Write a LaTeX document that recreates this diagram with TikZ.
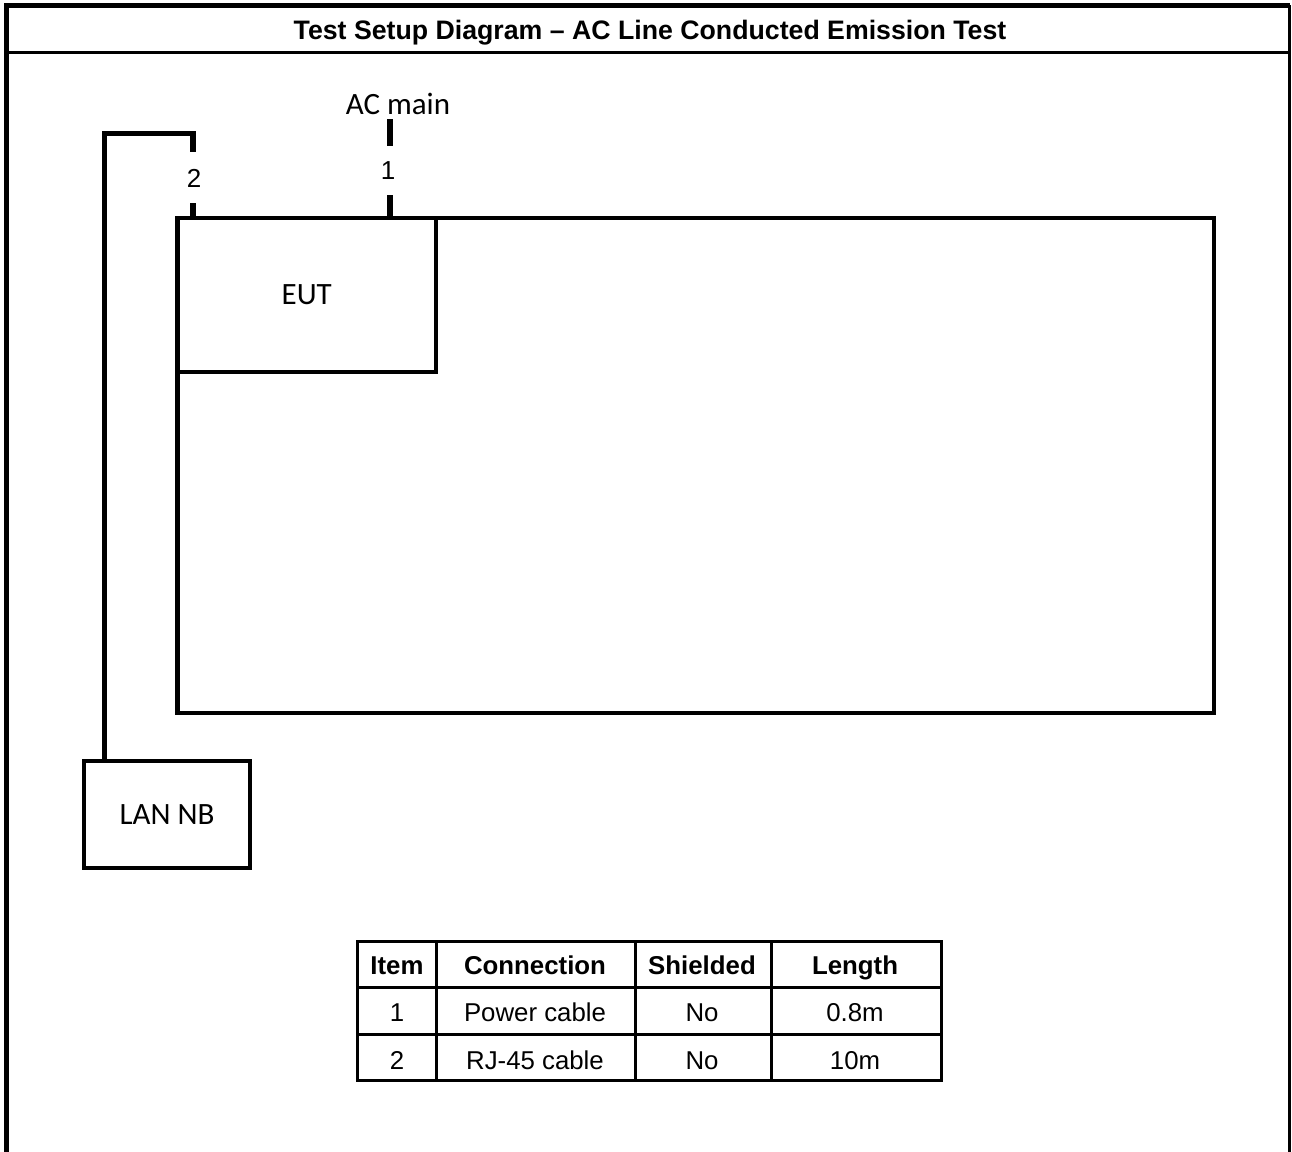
\documentclass[tikz,border=0pt]{standalone}
\usepackage{fontspec}
\setmainfont{Liberation Sans}
\newfontfamily\calfont{Carlito}
\usetikzlibrary{calc}
\begin{document}
\begin{tikzpicture}[x=1pt,y=-1pt,
  boxstyle/.style={draw, line width=4.5pt, inner sep=0pt, outer sep=0pt, line join=miter},
  califont/.style={font=\calfont\fontsize{31}{36}\selectfont},
  cable/.style={line width=5.5pt, line join=miter},
  gridline/.style={line width=3pt},
  numlabel/.style={font=\fontsize{26}{30}\selectfont, inner sep=0pt},
  headcell/.style={font=\bfseries\fontsize{25.8}{30}\selectfont, inner sep=0pt, anchor=base},
  bodycell/.style={font=\fontsize{25.8}{30}\selectfont, inner sep=0pt, anchor=base},
]
\useasboundingbox (0,0) rectangle (1292,1151);
\fill[white] (0,0) rectangle (1292,1151);

% outer frame
\draw[line width=5pt, line join=miter] (6.5,1160) -- (6.5,5) -- (1289.5,5);
\draw[line width=3pt] (1289.5,5) -- (1289.5,1160);
\draw[line width=2.5pt] (6.5,52.5) -- (1289.5,52.5);
\node[font=\bfseries\fontsize{26.7}{30}\selectfont, anchor=base, inner sep=0pt] (title) at (650,39) {Test Setup Diagram – AC Line Conducted Emission Test};

% boxes
\node[boxstyle, minimum width=1036.5pt, minimum height=495pt] (bench) at (695.75,465.5) {};
\node[boxstyle, califont, minimum width=258.5pt, minimum height=154pt] (eut) at (306.75,295) {EUT};
\node[boxstyle, califont, minimum width=166pt, minimum height=107pt] (lan) at (167,814.5) {LAN NB};

% cable 2
\coordinate (c2corner) at (193,133.5);
\coordinate (c2gapA) at (193,152);
\coordinate (c2gapB) at (193,203);
\draw[cable] ([xshift=20.5pt]lan.north west) |- (c2corner) -- (c2gapA);
\draw[cable] (c2gapB) -- (c2gapB |- eut.north);
\node[numlabel] (n2) at (194,178) {2};

% cable 1
\coordinate (c1top) at (390,119);
\coordinate (c1gapA) at (390,146);
\coordinate (c1gapB) at (390,195);
\draw[cable] (c1top) -- (c1gapA);
\draw[cable] (c1gapB) -- (c1gapB |- eut.north);
\node[numlabel] (n1) at (388,171) {1};
\node[califont, anchor=base, inner sep=0pt] (acmain) at (398,114) {AC main};

% table
\draw[gridline] (357.5,941.5) rectangle (941.5,1080.5);
\draw[gridline] (436.5,941.5) -- (436.5,1080.5);
\draw[gridline] (635.5,941.5) -- (635.5,1080.5);
\draw[gridline] (771.5,941.5) -- (771.5,1080.5);
\draw[gridline] (357.5,987) -- (941.5,987);
\draw[gridline] (357.5,1034) -- (941.5,1034);

\node[headcell] (h1) at (397,974) {Item};
\node[headcell] (h2) at (535,974) {Connection};
\node[headcell] (h3) at (702,974) {Shielded};
\node[headcell] (h4) at (855,974) {Length};

\node[bodycell] (r1a) at (397,1021.5) {1};
\node[bodycell] (r1b) at (535,1021.5) {Power cable};
\node[bodycell] (r1c) at (702,1021.5) {No};
\node[bodycell] (r1d) at (855,1021.5) {0.8m};

\node[bodycell] (r2a) at (397,1069) {2};
\node[bodycell] (r2b) at (535,1069) {RJ-45 cable};
\node[bodycell] (r2c) at (702,1069) {No};
\node[bodycell] (r2d) at (855,1069) {10m};
\end{tikzpicture}
\end{document}
